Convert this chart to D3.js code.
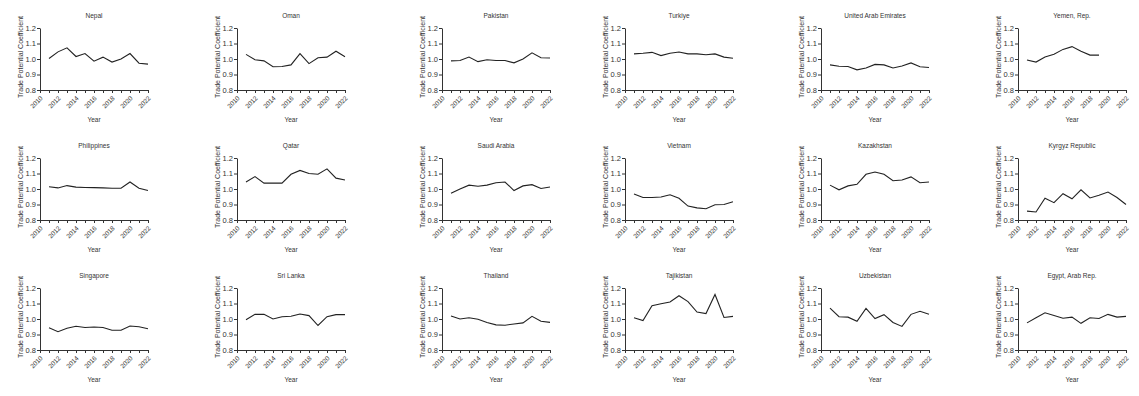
<!DOCTYPE html>
<html>
<head>
<meta charset="utf-8">
<script src="https://cdn.jsdelivr.net/npm/d3@7"></script>
<style>
	body { margin: 0; background: #fff; }
	text { font-family: "Liberation Sans", Arial, sans-serif; fill: #333; }
</style>
</head>
<body>
<div id="chart"></div>
<script>
// Years on the x axis (data runs 2011-2022, axis starts at 2010)
const axisYears = [2010, 2011, 2012, 2013, 2014, 2015, 2016, 2017, 2018, 2019, 2020, 2021, 2022];
const years = [2011, 2012, 2013, 2014, 2015, 2016, 2017, 2018, 2019, 2020, 2021, 2022];
const yTicks = [0.8, 0.9, 1.0, 1.1, 1.2];

const countries = [
	"Nepal", "Oman", "Pakistan", "Turkiye", "United Arab Emirates", "Yemen, Rep.",
	"Philippines", "Qatar", "Saudi Arabia", "Vietnam", "Kazakhstan", "Kyrgyz Republic",
	"Singapore", "Sri Lanka", "Thailand", "Tajikistan", "Uzbekistan", "Egypt, Arab Rep."
];

const nepal = [1.003, 1.046, 1.072, 1.016, 1.035, 0.986, 1.012, 0.980, 1.000, 1.035, 0.973, 0.967];
const oman = [1.030, 0.995, 0.988, 0.950, 0.952, 0.962, 1.035, 0.970, 1.008, 1.012, 1.050, 1.015];
const pakistan = [0.988, 0.990, 1.013, 0.983, 0.995, 0.990, 0.990, 0.975, 1.000, 1.040, 1.008, 1.006];
const turkiye = [1.033, 1.037, 1.043, 1.022, 1.037, 1.045, 1.033, 1.033, 1.027, 1.033, 1.012, 1.005];
const uae = [0.962, 0.953, 0.952, 0.930, 0.942, 0.965, 0.962, 0.942, 0.955, 0.975, 0.950, 0.945];
const yemen = [0.993, 0.980, 1.013, 1.030, 1.062, 1.080, 1.050, 1.025, 1.025, null, null, null];
const philippines = [1.015, 1.007, 1.022, 1.012, 1.010, 1.009, 1.007, 1.005, 1.005, 1.045, 1.005, 0.990];
const qatar = [1.045, 1.080, 1.038, 1.038, 1.038, 1.095, 1.120, 1.100, 1.095, 1.130, 1.070, 1.058];
const saudiArabia = [0.972, 1.000, 1.025, 1.018, 1.025, 1.040, 1.045, 0.990, 1.020, 1.028, 1.003, 1.013];
const vietnam = [0.968, 0.945, 0.945, 0.948, 0.963, 0.940, 0.890, 0.878, 0.873, 0.898, 0.900, 0.918];
const kazakhstan = [1.025, 0.995, 1.020, 1.030, 1.095, 1.110, 1.095, 1.053, 1.058, 1.078, 1.040, 1.045];
const kyrgyz = [0.857, 0.852, 0.940, 0.912, 0.970, 0.937, 0.995, 0.942, 0.960, 0.980, 0.945, 0.900];
const singapore = [0.943, 0.918, 0.940, 0.953, 0.945, 0.948, 0.945, 0.927, 0.927, 0.955, 0.950, 0.937];
const sriLanka = [0.995, 1.030, 1.030, 1.000, 1.015, 1.018, 1.032, 1.022, 0.958, 1.015, 1.028, 1.028];
const thailand = [1.020, 1.000, 1.008, 0.998, 0.978, 0.962, 0.960, 0.968, 0.975, 1.017, 0.985, 0.978];
const tajikistan = [1.008, 0.990, 1.085, 1.098, 1.110, 1.150, 1.112, 1.045, 1.035, 1.158, 1.010, 1.017];
const uzbekistan = [1.070, 1.015, 1.012, 0.985, 1.068, 1.003, 1.028, 0.978, 0.952, 1.030, 1.050, 1.030];
const egypt = [0.975, 1.008, 1.040, 1.022, 1.005, 1.012, 0.972, 1.008, 1.003, 1.030, 1.012, 1.017];

const seriesValues = [
	nepal, oman, pakistan, turkiye, uae, yemen,
	philippines, qatar, saudiArabia, vietnam, kazakhstan, kyrgyz,
	singapore, sriLanka, thailand, tajikistan, uzbekistan, egypt
];

generateGrid();

function generateGrid() {
	const width = 1139;
	const height = 396;

	// left edge of each column's plot and top edge of each row's plot
	const colX = [40, 237, 442, 625, 821, 1018];
	const rowY = [28, 158, 288];
	const plotWidth = 108;
	const plotHeight = 62;

	const svg = d3.select('#chart')
		.append('svg')
		.attr('width', width)
		.attr('height', height);

	const xScale = d3.scaleLinear()
		.domain([2010, 2022])
		.range([0, plotWidth]);

	const yScale = d3.scaleLinear()
		.domain([0.8, 1.2])
		.range([plotHeight, 0]);

	const line = d3.line()
		.defined((d) => d.value !== null)
		.x((d) => xScale(d.year))
		.y((d) => yScale(d.value));

	countries.forEach((name, i) => {
		const col = i % 6;
		const row = Math.floor(i / 6);
		const g = svg.append('g')
			.attr('transform', `translate(${colX[col]}, ${rowY[row]})`);

		// title
		g.append('text')
			.attr('x', plotWidth / 2)
			.attr('y', -10)
			.attr('text-anchor', 'middle')
			.style('font-size', '6.5px')
			.text(name);

		// x axis
		const xAxis = g.append('g')
			.attr('transform', `translate(0, ${plotHeight})`)
			.call(d3.axisBottom(xScale)
				.tickValues(axisYears)
				.tickSize(3)
				.tickSizeOuter(0)
				.tickFormat((d) => d % 2 === 0 ? d : ''));
		xAxis.selectAll('text')
			.attr('x', 0)
			.attr('y', 0)
			.attr('dy', '0.35em')
			.attr('text-anchor', 'end')
			.attr('transform', 'translate(1, 7) rotate(-45)')
			.style('font-size', '6.5px');

		// y axis
		const yAxis = g.append('g')
			.call(d3.axisLeft(yScale)
				.tickValues(yTicks)
				.tickSize(3)
				.tickSizeOuter(0)
				.tickFormat(d3.format('.1f')));
		yAxis.selectAll('text')
			.attr('x', -4)
			.style('font-size', '7.5px');

		g.selectAll('.domain, .tick line')
			.attr('stroke', '#333');

		// axis labels
		g.append('text')
			.attr('x', plotWidth / 2)
			.attr('y', plotHeight + 32)
			.attr('text-anchor', 'middle')
			.style('font-size', '6.5px')
			.text('Year');

		g.append('text')
			.attr('transform', 'rotate(-90)')
			.attr('x', -plotHeight / 2 + 2)
			.attr('y', -17)
			.attr('text-anchor', 'middle')
			.style('font-size', '7px')
			.text('Trade Potential Coefficient');

		// series line
		const points = years.map((y, j) => ({ year: y, value: seriesValues[i][j] }));
		g.append('path')
			.datum(points)
			.attr('fill', 'none')
			.attr('stroke', '#222')
			.attr('stroke-width', 1.1)
			.attr('d', line);
	});
}
</script>
</body>
</html>
